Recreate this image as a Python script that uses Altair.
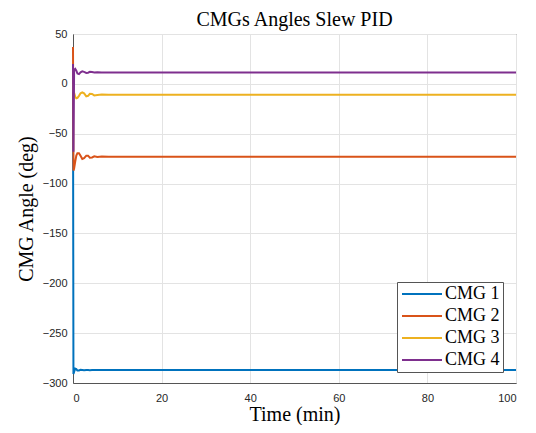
import altair as alt
import pandas as pd

# Time grid (minutes)
time_min = [0, 0.1, 0.25, 0.5, 0.75, 1.0, 1.35, 1.7, 2.1, 2.5, 3.0, 3.4, 3.8,
            4.3, 4.8, 5.5, 6.5, 8, 10, 100]

# CMG gimbal angles (deg)
cmg1 = [0, -291, -289, -285.5, -286, -287.5, -287.5, -286.8, -287, -287.2,
        -286.9, -287, -287.1, -287, -287, -287, -287, -287, -287, -287]
cmg2 = [37, -87, -85, -78, -72, -69.5, -69.5, -72, -75.3, -74.5, -72, -72,
        -74, -73.8, -72.6, -73.3, -72.9, -73.1, -73, -73]
cmg3 = [0, -6, -9, -13, -14.5, -14, -12, -9.5, -8.5, -9.5, -12.5, -12, -10,
        -10.2, -11.6, -11.2, -10.8, -11, -11, -11]
cmg4 = [20, -68, 14, 15, 13.2, 10.5, 9.8, 11.5, 12.5, 12, 11, 11.2, 12,
        11.8, 11.3, 11.6, 11.5, 11.5, 11.5, 11.5]

series_names = ["CMG 1", "CMG 2", "CMG 3", "CMG 4"]
series_colors = ["#0072BD", "#D95319", "#EDB120", "#7E2F8E"]
x_ticks = [0, 20, 40, 60, 80, 100]
y_ticks = [-300, -250, -200, -150, -100, -50, 0, 50]

rows = []
for name, vals in zip(series_names, [cmg1, cmg2, cmg3, cmg4]):
    for t, v in zip(time_min, vals):
        rows.append({"t": t, "angle": v, "series": name})
df = pd.DataFrame(rows)

serif = "Liberation Serif"
sans = "Liberation Sans"

chart = alt.Chart(df).mark_line(strokeWidth=2).encode(
    x=alt.X("t:Q",
            scale=alt.Scale(domain=[0, 100], nice=False),
            axis=alt.Axis(title="Time (min)", values=x_ticks, labelPadding=9,
                          titlePadding=1)),
    y=alt.Y("angle:Q",
            scale=alt.Scale(domain=[-300, 50], nice=False),
            axis=alt.Axis(title="CMG Angle (deg)", values=y_ticks, labelPadding=6,
                          titlePadding=6)),
    color=alt.Color("series:N",
                    scale=alt.Scale(domain=series_names, range=series_colors),
                    legend=alt.Legend(title=None, orient="none", legendX=324, legendY=248,
                                      symbolType="M-1.4,0H6.6", symbolSize=100,
                                      symbolStrokeWidth=2, labelFont=serif,
                                      labelFontSize=18, labelColor="black",
                                      fillColor="white", strokeColor="#555",
                                      padding=3, rowPadding=4, labelOffset=27)),
).properties(
    width=443,
    height=349,
    title=alt.TitleParams("CMGs Angles Slew PID", font=serif, fontSize=20,
                          fontWeight="normal", color="black", anchor="middle", offset=-2),
    autosize=alt.AutoSizeParams(type="none"),
    padding={"left": 65, "top": 26, "right": 12, "bottom": 42},
).configure_view(
    stroke="#555", strokeWidth=1
).configure_axis(
    domainColor="#555", gridColor="#e3e3e3", ticks=False,
    labelFont=sans, labelFontSize=11, labelColor="#262626",
    titleFont=serif, titleFontSize=20, titleFontWeight="normal", titleColor="black",
)

chart.save("out.html", embed_options={"renderer": "svg", "actions": False})
